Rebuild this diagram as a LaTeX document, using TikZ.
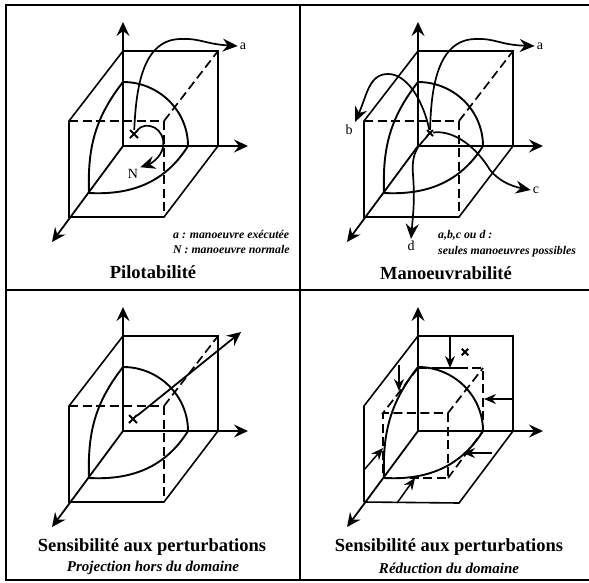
\documentclass[tikz,border=0pt]{standalone}
\usepackage{fontspec}
\setmainfont{Liberation Serif}
\usepackage{xcolor}
\usetikzlibrary{arrows.meta,shapes.misc}

\begin{document}
\begin{tikzpicture}[
  x=1pt, y=-1pt,
  frame/.style={line width=2pt},
  edge/.style={line width=1.6pt},
  hidden/.style={line width=1.7pt, dash pattern=on 9pt off 4.5pt},
  axis/.style={line width=1.8pt, -{Stealth[length=14pt, width=13pt, inset=5pt]}},
  shell/.style={line width=1.9pt},
  traj/.style={line width=1.7pt, -{Stealth[length=15pt, width=13pt, inset=5pt]}},
  push/.style={line width=1.5pt, -{Stealth[length=12pt, width=10pt, inset=4pt]}},
  state/.style={cross out, draw, line width=2pt, inner sep=0pt, minimum size=6pt},
  title/.style={font=\fontsize{18.5}{20}\selectfont\bfseries},
  subtitle/.style={font=\fontsize{15}{17}\selectfont\bfseries\itshape},
  legend/.style={font=\fontsize{11.8}{14}\selectfont\bfseries\itshape, anchor=west, inner sep=0pt},
  tag/.style={font=\fontsize{14}{15}\selectfont, inner sep=2pt},
  pics/axes/.style={code={
    \coordinate (-o) at (123,146);
    \coordinate (-top) at (123,22);
    \coordinate (-right) at (248,146);
    \coordinate (-front) at (52,242);
    \coordinate (-apex) at (123,82);
    \coordinate (-east) at (188,146);
    \coordinate (-south) at (89,193);
    \draw[axis] (-o) -- (-top);
    \draw[axis] (-o) -- (-right);
    \draw[axis] (-o) -- (-front);
    \draw[shell] (-apex) to[out=0, in=90] (-east);
    \draw[shell] (-apex) to[out=-128, in=92] (-south);
    \draw[shell] (-south) to[out=-3, in=-122] (-east);
  }},
  pics/cube/.style={code={
    \draw[edge] (69,217) -- (69,121) -- (123,51) -- (218,51) -- (218,146) -- (164,217) -- cycle;
    \draw[hidden] (69,121) -- (164,121);
    \draw[hidden] (164,121) -- (218,51);
    \draw[hidden] (164,121) -- (164,217);
  }}
]
\useasboundingbox (0,0) rectangle (589,582);

% Panel frame
\coordinate (tl) at (6,5);
\coordinate (tm) at (300,5);
\coordinate (tr) at (589,5);
\coordinate (ml) at (6,290);
\coordinate (mr) at (589,290);
\coordinate (bl) at (6,580);
\coordinate (bm) at (300,580);
\coordinate (br) at (589,580);
\draw[frame] (tr) -- (tl) -- (bl) -- (br);
\draw[frame] (tm) -- (bm);
\draw[frame] (ml) -- (mr);

% Top left
\begin{scope}
  \pic (pa) {axes};
  \pic {cube};
  \node[state] (marka) at (134,134) {};
  \node[tag] (laba) at (243,46) {a};
  \node[tag] (labn) at (133,174) {N};
  \draw[traj] (marka) .. controls (136,95) and (140,40) .. (180,39)
     .. controls (200,38) and (205,44) .. (laba.west);
  \draw[traj] (marka) .. controls (146,120) and (166,128) .. (163,147)
     .. controls (161,158) and (150,164) .. (labn.north east);
  \node[legend] (notea) at (173,234) {a : manoeuvre exécutée};
  \node[legend] (noten) at (173,249) {N : manoeuvre normale};
  \node[title] (pilot) at (153,272) {Pilotabilité};
\end{scope}

% Top right
\begin{scope}[shift={(295,0)}]
  \pic (pb) {axes};
  \pic {cube};
  \node[state, minimum size=4pt] (markb) at (135,133) {};
  \node[tag] (tipa) at (245,46) {a};
  \node[tag] (tipb) at (54,130) {b};
  \node[tag] (tipc) at (241,190) {c};
  \node[tag] (tipd) at (116,246) {d};
  \draw[traj] (markb) .. controls (136,95) and (140,40) .. (180,39)
     .. controls (200,38) and (205,45) .. (tipa.west);
  \draw[traj] (markb) .. controls (128,100) and (112,74) .. (93,74)
     .. controls (74,74) and (72,95) .. (60,122);
  \draw[traj] (markb) .. controls (155,130) and (178,142) .. (195,170)
     .. controls (203,180) and (215,186) .. (tipc.west);
  \draw[traj] (markb) .. controls (125,145) and (116,150) .. (118,175)
     .. controls (120,200) and (118,215) .. (tipd.north);
  \node[legend] (notes) at (143,235) {a,b,c ou d :};
  \node[legend] (notet) at (143,252) {seules manoeuvres possibles};
  \node[title] (manoeuvre) at (151,273) {Manoeuvrabilité};
\end{scope}

% Bottom left
\begin{scope}[shift={(0,285)}]
  \pic (pc) {axes};
  \pic {cube};
  \node[state] (markc) at (133,134) {};
  \coordinate (outc) at (241,47);
  \draw[axis] (markc) -- (outc);
  \node[title] (sensa) at (152,262) {Sensibilité aux perturbations};
  \node[subtitle] (proj) at (153,283) {Projection hors du domaine};
\end{scope}

% Bottom right
\begin{scope}[shift={(295,285)}]
  \pic (pd) {axes};
  \draw[edge] (69,217) -- (69,121) -- (123,51) -- (218,51) -- (218,146) -- (164,218) -- (69,217);
  \draw[hidden] (123,83) -- (188,83) -- (188,146);
  \draw[hidden] (123,83) -- (88,128) -- (153,128) -- (188,83);
  \draw[hidden] (153,128) -- (153,193) -- (88,193) -- (88,128);
  \draw[hidden] (153,193) -- (188,146);
  \node[state, minimum size=4.5pt] (markd) at (170,67) {};
  \coordinate (wallb) at (155,51);
  \coordinate (stopb) at (155,83);
  \coordinate (wallr) at (218,114);
  \coordinate (stopr) at (189,114);
  \coordinate (walll) at (104,80);
  \coordinate (stopl) at (104,106);
  \coordinate (wallf) at (69,185);
  \coordinate (stopf) at (88,163);
  \coordinate (floora) at (102,218);
  \coordinate (stopa) at (120,193);
  \coordinate (floorb) at (197,168);
  \coordinate (stopc) at (168,168);
  \draw[push] (wallb) -- (stopb);
  \draw[line width=1.7pt] (146,83) -- (164,83);
  \draw[push] (wallr) -- (stopr);
  \draw[push] (walll) -- (stopl);
  \draw[push] (wallf) -- (stopf);
  \draw[push] (floora) -- (stopa);
  \draw[push] (floorb) -- (stopc);
  \node[title] (sensb) at (154,262) {Sensibilité aux perturbations};
  \node[subtitle] (reduc) at (154,283) {Réduction du domaine};
\end{scope}
\end{tikzpicture}
\end{document}
